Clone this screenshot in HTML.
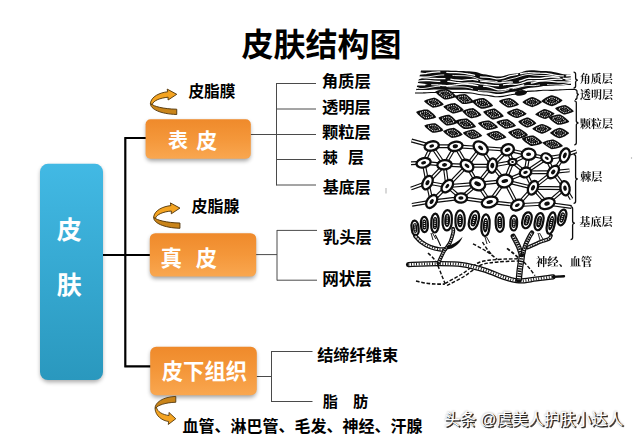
<!DOCTYPE html>
<html><head><meta charset="utf-8"><title>皮肤结构图</title>
<style>html,body{margin:0;padding:0;background:#fff;font-family:"Liberation Sans",sans-serif}svg{display:block}</style>
</head><body>
<svg width="640" height="441" viewBox="0 0 640 441">
<rect width="640" height="441" fill="#fff"/>

<defs>
<linearGradient id="gb" x1="0" y1="0" x2="0" y2="1"><stop offset="0" stop-color="#42b9e4"/><stop offset="1" stop-color="#2a98be"/></linearGradient>
<linearGradient id="go" x1="0" y1="0" x2="0" y2="1"><stop offset="0" stop-color="#ef8a2b"/><stop offset="0.5" stop-color="#f4973a"/><stop offset="1" stop-color="#f9a750"/></linearGradient>
<filter id="sh" x="-10%" y="-10%" width="120%" height="130%"><feGaussianBlur stdDeviation="1.9"/></filter>
<filter id="wm" x="-5%" y="-30%" width="110%" height="160%"><feGaussianBlur stdDeviation="0.45"/></filter>
<filter id="wm2" x="-5%" y="-30%" width="110%" height="160%"><feGaussianBlur stdDeviation="1.2"/></filter>
<filter id="soft" x="-5%" y="-5%" width="110%" height="110%"><feGaussianBlur stdDeviation="0.35"/></filter>
</defs>

<text x="241.4" y="56.3" font-family="'Liberation Sans','Noto Sans CJK SC',sans-serif" font-size="32" font-weight="bold" fill="#000">皮肤结构图</text>
<path d="M103 255H150M125.3 137.5V367M124.3 138H146M124.3 366.3H151" stroke="#000" stroke-width="2.2" fill="none"/>
<path d="M250.6 134.5H276.5M276.5 83V185.5M276.5 83.5H316M276.5 109H316M276.5 134.5H316M276.5 159.5H316M276.5 185H316M256 254.6H277M277 230V280.5M277 230.4H317M277 280.2H317M256.5 376.5H271.5M271.5 351V402M271.5 351.5H312.5M271.5 401.5H312.5" stroke="#4a4a4a" stroke-width="1" fill="none"/>
<rect x="40.5" y="166.0" width="62.0" height="216.2" rx="8.0" fill="#000" opacity="0.33" filter="url(#sh)"/>
<rect x="40.0" y="163.8" width="63.0" height="216.2" rx="8.0" fill="url(#gb)"/>
<rect x="146.1" y="121.5" width="104.2" height="39.5" rx="5.0" fill="#000" opacity="0.36" filter="url(#sh)"/>
<rect x="145.6" y="119.3" width="105.2" height="39.5" rx="5.0" fill="url(#go)"/>
<rect x="150.3" y="235.4" width="105.4" height="43.4" rx="5.5" fill="#000" opacity="0.36" filter="url(#sh)"/>
<rect x="149.8" y="233.2" width="106.4" height="43.4" rx="5.5" fill="url(#go)"/>
<rect x="150.7" y="349.0" width="105.6" height="48.5" rx="6.0" fill="#000" opacity="0.36" filter="url(#sh)"/>
<rect x="150.2" y="346.8" width="106.6" height="48.5" rx="6.0" fill="url(#go)"/>
<text x="56.8" y="238.8" font-family="'Liberation Sans','Noto Sans CJK SC',sans-serif" font-size="25" font-weight="bold" fill="#fff">皮</text>
<text x="56.8" y="293.8" font-family="'Liberation Sans','Noto Sans CJK SC',sans-serif" font-size="25" font-weight="bold" fill="#fff">肤</text>
<text x="168.0" y="148.3" font-family="'Liberation Sans','Noto Sans CJK SC',sans-serif" font-size="20" font-weight="bold" fill="#fff">表</text>
<text x="196.2" y="148.2" font-family="'Liberation Sans','Noto Sans CJK SC',sans-serif" font-size="21" font-weight="bold" fill="#fff">皮</text>
<text x="160.5" y="266.1" font-family="'Liberation Sans','Noto Sans CJK SC',sans-serif" font-size="21.5" font-weight="bold" fill="#fff">真</text>
<text x="195.8" y="266.1" font-family="'Liberation Sans','Noto Sans CJK SC',sans-serif" font-size="21.3" font-weight="bold" fill="#fff">皮</text>
<text x="161.8" y="379.1" font-family="'Liberation Sans','Noto Sans CJK SC',sans-serif" font-size="21.3" font-weight="bold" fill="#fff">皮下组织</text>
<g transform="translate(0 0)" stroke="#4e3208" stroke-width="0.9" stroke-linejoin="round"><path d="M150.4 103.6C150.4 109 160 114 176.75 114.5L176.75 109.2C163 109 153 106 152.2 104.3Z" fill="#c9841a"/><path d="M167.7 91.8C160 92.5 151 96.5 150.4 103.6L152.2 104.5C153.5 100.5 160 98 168.1 97.2L168.1 100L176.75 94.3L167.2 89.1Z" fill="#f4a422"/></g>
<g transform="translate(3.2 113.8)" stroke="#4e3208" stroke-width="0.9" stroke-linejoin="round"><path d="M150.4 103.6C150.4 109 160 114 176.75 114.5L176.75 109.2C163 109 153 106 152.2 104.3Z" fill="#c9841a"/><path d="M167.7 91.8C160 92.5 151 96.5 150.4 103.6L152.2 104.5C153.5 100.5 160 98 168.1 97.2L168.1 100L176.75 94.3L167.2 89.1Z" fill="#f4a422"/></g>
<g transform="matrix(0.7894 0 0 -1.1063 36.278 523.071)" stroke="#4e3208" stroke-width="0.9" stroke-linejoin="round"><path d="M150.4 103.6C150.4 109 160 114 176.75 114.5L176.75 109.2C163 109 153 106 152.2 104.3Z" fill="#c9841a"/><path d="M167.7 91.8C160 92.5 151 96.5 150.4 103.6L152.2 104.5C153.5 100.5 160 98 168.1 97.2L168.1 100L176.75 94.3L167.2 89.1Z" fill="#f4a422"/></g>
<text x="188.4" y="96.8" font-family="'Liberation Sans','Noto Sans CJK SC',sans-serif" font-size="15.7" font-weight="bold" fill="#000">皮脂膜</text>
<text x="191.6" y="212.4" font-family="'Liberation Sans','Noto Sans CJK SC',sans-serif" font-size="16" font-weight="bold" fill="#000">皮脂腺</text>
<text x="321.7" y="87.3" font-family="'Liberation Sans','Noto Sans CJK SC',sans-serif" font-size="16.4" font-weight="bold" fill="#000">角质层</text>
<text x="321.9" y="113.4" font-family="'Liberation Sans','Noto Sans CJK SC',sans-serif" font-size="16.3" font-weight="bold" fill="#000">透明层</text>
<text x="322.0" y="137.9" font-family="'Liberation Sans','Noto Sans CJK SC',sans-serif" font-size="16.3" font-weight="bold" fill="#000">颗粒层</text>
<text x="322.8" y="162.9" font-family="'Liberation Sans','Noto Sans CJK SC',sans-serif" font-size="15" font-weight="bold" fill="#000">棘</text>
<text x="348.0" y="162.6" font-family="'Liberation Sans','Noto Sans CJK SC',sans-serif" font-size="16" font-weight="bold" fill="#000">层</text>
<text x="322.8" y="192.8" font-family="'Liberation Sans','Noto Sans CJK SC',sans-serif" font-size="16" font-weight="bold" fill="#000">基底层</text>
<text x="322.8" y="243.0" font-family="'Liberation Sans','Noto Sans CJK SC',sans-serif" font-size="16.4" font-weight="bold" fill="#000">乳头层</text>
<text x="322.2" y="285.4" font-family="'Liberation Sans','Noto Sans CJK SC',sans-serif" font-size="16.6" font-weight="bold" fill="#000">网状层</text>
<text x="317.2" y="360.6" font-family="'Liberation Sans','Noto Sans CJK SC',sans-serif" font-size="16.2" font-weight="bold" fill="#000">结缔纤维束</text>
<text x="322.7" y="406.5" font-family="'Liberation Sans','Noto Sans CJK SC',sans-serif" font-size="15.2" font-weight="bold" fill="#000">脂</text>
<text x="353.1" y="406.5" font-family="'Liberation Sans','Noto Sans CJK SC',sans-serif" font-size="15.2" font-weight="bold" fill="#000">肪</text>
<text x="182.4" y="432.3" font-family="'Liberation Sans','Noto Sans CJK SC',sans-serif" font-size="16" font-weight="bold" fill="#000">血管、淋巴管、毛发、神经、汗腺</text>
<g filter="url(#wm)" transform="translate(1 1)" opacity="0.9"><text x="444.5" y="424.9" font-family="'Liberation Sans','Noto Sans CJK SC',sans-serif" font-size="16" fill="#1a1a1a" stroke="#1a1a1a" stroke-width="0.5" textLength="179" lengthAdjust="spacingAndGlyphs">头条 @虞美人护肤小达人</text></g>
<g filter="url(#wm2)" opacity="0.35"><text x="444.5" y="424.9" font-family="'Liberation Sans','Noto Sans CJK SC',sans-serif" font-size="16" fill="#1a1a1a" stroke="#1a1a1a" stroke-width="0.5" textLength="179" lengthAdjust="spacingAndGlyphs">头条 @虞美人护肤小达人</text></g>
<text x="444.2" y="425.1" font-family="'Liberation Sans','Noto Sans CJK SC',sans-serif" font-size="16" fill="#fff" textLength="179" lengthAdjust="spacingAndGlyphs">头条 @虞美人护肤小达人</text>
<path d="M386 188v5.5" stroke="#a8a8a8" stroke-width="0.9"/><circle cx="631.5" cy="158" r="0.7" fill="#aaa"/>
<g filter="url(#soft)"><path d="M421.0 70.6C421.8 70.6 424.3 70.6 426.0 70.6C427.7 70.6 429.3 70.6 431.0 70.6C432.7 70.6 434.3 70.6 436.0 70.6C437.7 70.6 439.3 70.6 441.0 70.6C442.7 70.6 444.3 70.6 446.0 70.6C447.7 70.6 449.3 70.6 451.0 70.7C452.7 70.7 454.3 70.8 456.0 70.8C457.7 70.9 459.3 71.0 461.0 71.1C462.7 71.1 464.3 71.2 466.0 71.3C467.7 71.3 469.3 71.3 471.0 71.4C472.7 71.5 474.3 71.7 476.0 72.1C477.7 72.5 479.3 73.3 481.0 73.7C482.7 74.1 484.3 74.2 486.0 74.4C487.7 74.7 489.3 75.0 491.0 75.4C492.7 75.7 494.3 76.3 496.0 76.5C497.7 76.6 499.3 76.6 501.0 76.4C502.7 76.1 504.3 75.6 506.0 75.2C507.7 74.8 509.3 74.3 511.0 74.0C512.7 73.7 514.3 73.8 516.0 73.6C517.7 73.3 519.3 72.9 521.0 72.4C522.7 71.9 524.3 71.2 526.0 70.8C527.7 70.4 529.3 70.3 531.0 70.2C532.7 70.2 534.3 70.4 536.0 70.5C537.7 70.6 539.3 70.8 541.0 70.9C542.7 70.9 544.3 70.9 546.0 71.0C547.7 71.1 549.3 71.3 551.0 71.5C552.7 71.8 554.3 72.2 556.0 72.5C557.7 72.9 559.3 73.3 561.0 73.7C562.7 74.0 564.3 74.4 566.0 74.6C567.7 74.8 570.2 74.9 571.0 75.0L571.0 85.0C570.2 85.0 567.7 85.0 566.0 85.1C564.3 85.2 562.7 85.3 561.0 85.4C559.3 85.5 557.7 85.6 556.0 85.7C554.3 85.8 552.7 85.9 551.0 86.0C549.3 86.0 547.7 86.0 546.0 86.1C544.3 86.2 542.7 86.2 541.0 86.4C539.3 86.6 537.7 87.0 536.0 87.2C534.3 87.4 532.7 87.6 531.0 87.8C529.3 88.0 527.7 88.1 526.0 88.5C524.3 88.9 522.7 89.7 521.0 90.3C519.3 90.8 517.7 91.3 516.0 91.6C514.3 91.8 512.7 91.7 511.0 92.0C509.3 92.2 507.7 92.6 506.0 93.0C504.3 93.3 502.7 93.7 501.0 93.9C499.3 94.1 497.7 94.1 496.0 94.0C494.3 93.9 492.7 93.4 491.0 93.1C489.3 92.8 487.7 92.5 486.0 92.3C484.3 92.1 482.7 92.2 481.0 92.0C479.3 91.8 477.7 91.4 476.0 91.1C474.3 90.9 472.7 90.5 471.0 90.2C469.3 90.0 467.7 89.9 466.0 89.8C464.3 89.7 462.7 89.8 461.0 89.8C459.3 89.8 457.7 89.8 456.0 89.7C454.3 89.7 452.7 89.7 451.0 89.7C449.3 89.7 447.7 89.7 446.0 89.6C444.3 89.6 442.7 89.6 441.0 89.6C439.3 89.6 437.7 89.6 436.0 89.6C434.3 89.6 432.7 89.7 431.0 89.7C429.3 89.8 427.7 89.9 426.0 89.9C424.3 90.0 422.7 90.1 421.0 90.1C419.3 90.2 416.8 90.2 416.0 90.2Z" fill="#0a0a0a"/>
<path d="M414.0 73.8C415.0 73.8 418.0 74.1 420.0 74.0C422.0 74.0 424.0 73.7 426.0 73.5C428.0 73.2 430.0 72.7 432.0 72.4C434.0 72.2 436.0 72.0 438.0 71.9C440.0 71.9 442.0 72.1 444.0 72.2C446.0 72.4 448.0 72.5 450.0 72.6C452.0 72.7 454.0 72.7 456.0 72.7C458.0 72.8 460.0 72.9 462.0 73.1C464.0 73.3 466.0 73.6 468.0 74.0C470.0 74.3 472.0 74.7 474.0 75.1C476.0 75.6 478.0 76.6 480.0 76.9C482.0 77.3 484.0 77.0 486.0 77.2C488.0 77.4 490.0 77.6 492.0 77.9C494.0 78.2 496.0 78.9 498.0 78.9C500.0 78.9 502.0 78.4 504.0 77.8C506.0 77.3 508.0 76.2 510.0 75.7C512.0 75.1 514.0 74.9 516.0 74.6C518.0 74.2 520.0 73.8 522.0 73.5C524.0 73.2 526.0 72.7 528.0 72.7C530.0 72.6 532.0 72.9 534.0 73.0C536.0 73.1 538.0 73.1 540.0 73.2C542.0 73.2 544.0 73.2 546.0 73.4C548.0 73.7 550.0 74.1 552.0 74.5C554.0 74.9 556.0 75.4 558.0 75.6C560.0 75.8 562.0 75.9 564.0 75.9C566.0 75.9 568.0 75.6 570.0 75.6C572.0 75.5 575.0 75.4 576.0 75.4" fill="none" stroke="#fff" stroke-width="1.3" stroke-linecap="round" stroke-dasharray="30 7 28 6 38 3 43 3 40 3 28 6" stroke-dashoffset="4"/>
<path d="M414.0 76.5C415.0 76.5 418.0 76.7 420.0 76.8C422.0 76.9 424.0 77.0 426.0 76.9C428.0 76.9 430.0 76.6 432.0 76.3C434.0 76.0 436.0 75.5 438.0 75.3C440.0 75.0 442.0 74.9 444.0 74.9C446.0 74.9 448.0 75.1 450.0 75.2C452.0 75.3 454.0 75.5 456.0 75.6C458.0 75.7 460.0 75.6 462.0 75.7C464.0 75.7 466.0 75.7 468.0 76.0C470.0 76.2 472.0 76.6 474.0 77.2C476.0 77.8 478.0 79.1 480.0 79.6C482.0 80.2 484.0 80.3 486.0 80.5C488.0 80.7 490.0 80.8 492.0 81.0C494.0 81.2 496.0 81.6 498.0 81.6C500.0 81.5 502.0 81.2 504.0 80.8C506.0 80.4 508.0 79.6 510.0 79.1C512.0 78.5 514.0 78.2 516.0 77.7C518.0 77.1 520.0 76.2 522.0 75.7C524.0 75.2 526.0 74.5 528.0 74.4C530.0 74.3 532.0 74.9 534.0 75.1C536.0 75.3 538.0 75.4 540.0 75.5C542.0 75.6 544.0 75.4 546.0 75.5C548.0 75.6 550.0 75.8 552.0 76.2C554.0 76.5 556.0 77.2 558.0 77.5C560.0 77.9 562.0 78.3 564.0 78.3C566.0 78.4 568.0 78.1 570.0 77.9C572.0 77.7 575.0 77.2 576.0 77.1" fill="none" stroke="#fff" stroke-width="0.9" stroke-linecap="round" stroke-dasharray="47 9 45 5 59 3 55 5 30 4 36 8" stroke-dashoffset="17"/>
<path d="M414.0 78.3C415.0 78.2 418.0 77.8 420.0 77.7C422.0 77.6 424.0 77.8 426.0 77.9C428.0 78.0 430.0 78.3 432.0 78.4C434.0 78.5 436.0 78.5 438.0 78.6C440.0 78.6 442.0 78.5 444.0 78.6C446.0 78.6 448.0 78.8 450.0 79.1C452.0 79.3 454.0 79.8 456.0 80.0C458.0 80.2 460.0 80.3 462.0 80.3C464.0 80.2 466.0 79.9 468.0 79.7C470.0 79.6 472.0 79.3 474.0 79.5C476.0 79.7 478.0 80.6 480.0 80.9C482.0 81.3 484.0 81.5 486.0 81.7C488.0 82.0 490.0 82.2 492.0 82.4C494.0 82.6 496.0 82.9 498.0 82.9C500.0 82.9 502.0 82.6 504.0 82.4C506.0 82.3 508.0 82.1 510.0 82.0C512.0 81.9 514.0 82.3 516.0 82.0C518.0 81.7 520.0 80.9 522.0 80.3C524.0 79.7 526.0 78.7 528.0 78.4C530.0 78.0 532.0 78.4 534.0 78.4C536.0 78.4 538.0 78.4 540.0 78.3C542.0 78.2 544.0 77.8 546.0 77.5C548.0 77.3 550.0 77.0 552.0 76.9C554.0 76.9 556.0 77.0 558.0 77.2C560.0 77.5 562.0 78.0 564.0 78.3C566.0 78.5 568.0 78.8 570.0 78.9C572.0 79.0 575.0 78.9 576.0 78.8" fill="none" stroke="#fff" stroke-width="1.3" stroke-linecap="round" stroke-dasharray="38 6 27 3 32 7 40 5 45 6 35 8" stroke-dashoffset="7"/>
<path d="M414.0 81.8C415.0 81.7 418.0 81.1 420.0 80.9C422.0 80.7 424.0 80.5 426.0 80.5C428.0 80.5 430.0 80.8 432.0 80.9C434.0 81.1 436.0 81.2 438.0 81.3C440.0 81.4 442.0 81.3 444.0 81.3C446.0 81.3 448.0 81.3 450.0 81.5C452.0 81.7 454.0 82.1 456.0 82.4C458.0 82.6 460.0 83.0 462.0 83.1C464.0 83.2 466.0 83.1 468.0 83.0C470.0 82.9 472.0 82.7 474.0 82.8C476.0 82.9 478.0 83.5 480.0 83.8C482.0 84.0 484.0 84.2 486.0 84.5C488.0 84.8 490.0 85.2 492.0 85.4C494.0 85.6 496.0 85.8 498.0 85.7C500.0 85.6 502.0 85.0 504.0 84.7C506.0 84.5 508.0 84.1 510.0 84.0C512.0 84.0 514.0 84.5 516.0 84.4C518.0 84.2 520.0 83.6 522.0 83.0C524.0 82.5 526.0 81.4 528.0 81.0C530.0 80.6 532.0 80.8 534.0 80.8C536.0 80.7 538.0 80.8 540.0 80.7C542.0 80.7 544.0 80.5 546.0 80.3C548.0 80.2 550.0 79.8 552.0 79.6C554.0 79.4 556.0 79.2 558.0 79.2C560.0 79.2 562.0 79.4 564.0 79.6C566.0 79.8 568.0 80.1 570.0 80.3C572.0 80.4 575.0 80.3 576.0 80.3" fill="none" stroke="#fff" stroke-width="1.3" stroke-linecap="round" stroke-dasharray="43 8 51 5 59 4 40 8 30 6 26 7" stroke-dashoffset="17"/>
<path d="M414.0 84.0C415.0 84.1 418.0 84.5 420.0 84.7C422.0 84.8 424.0 84.8 426.0 84.7C428.0 84.7 430.0 84.5 432.0 84.6C434.0 84.6 436.0 84.7 438.0 84.9C440.0 85.0 442.0 85.4 444.0 85.5C446.0 85.6 448.0 85.6 450.0 85.5C452.0 85.4 454.0 85.0 456.0 84.8C458.0 84.5 460.0 84.2 462.0 84.1C464.0 84.0 466.0 84.0 468.0 84.2C470.0 84.3 472.0 84.7 474.0 85.0C476.0 85.3 478.0 85.8 480.0 86.0C482.0 86.3 484.0 86.1 486.0 86.4C488.0 86.7 490.0 87.3 492.0 87.9C494.0 88.5 496.0 89.5 498.0 89.7C500.0 90.0 502.0 89.8 504.0 89.5C506.0 89.2 508.0 88.4 510.0 87.9C512.0 87.5 514.0 87.4 516.0 87.0C518.0 86.6 520.0 86.1 522.0 85.5C524.0 85.0 526.0 84.1 528.0 83.6C530.0 83.2 532.0 83.0 534.0 82.6C536.0 82.2 538.0 81.4 540.0 81.1C542.0 80.8 544.0 80.7 546.0 80.8C548.0 80.8 550.0 81.2 552.0 81.4C554.0 81.6 556.0 81.9 558.0 82.0C560.0 82.1 562.0 82.0 564.0 82.0C566.0 82.1 568.0 82.1 570.0 82.3C572.0 82.4 575.0 82.9 576.0 83.0" fill="none" stroke="#fff" stroke-width="1.4" stroke-linecap="round" stroke-dasharray="36 7 46 6 41 8 58 6 48 3 50 7" stroke-dashoffset="25"/>
<path d="M414.0 88.3C415.0 88.4 418.0 88.6 420.0 88.6C422.0 88.6 424.0 88.5 426.0 88.2C428.0 88.0 430.0 87.4 432.0 87.1C434.0 86.7 436.0 86.3 438.0 86.2C440.0 86.1 442.0 86.2 444.0 86.3C446.0 86.4 448.0 86.7 450.0 86.8C452.0 86.9 454.0 86.9 456.0 86.9C458.0 86.9 460.0 86.8 462.0 86.9C464.0 87.0 466.0 87.1 468.0 87.5C470.0 87.9 472.0 88.6 474.0 89.2C476.0 89.7 478.0 90.5 480.0 90.8C482.0 91.1 484.0 90.8 486.0 90.8C488.0 90.9 490.0 91.0 492.0 91.2C494.0 91.4 496.0 92.0 498.0 91.9C500.0 91.9 502.0 91.6 504.0 91.2C506.0 90.7 508.0 89.8 510.0 89.3C512.0 88.8 514.0 88.5 516.0 88.1C518.0 87.6 520.0 87.0 522.0 86.5C524.0 86.1 526.0 85.6 528.0 85.5C530.0 85.3 532.0 85.8 534.0 85.7C536.0 85.6 538.0 85.1 540.0 84.9C542.0 84.7 544.0 84.6 546.0 84.6C548.0 84.6 550.0 84.9 552.0 84.9C554.0 85.0 556.0 85.2 558.0 85.1C560.0 85.0 562.0 84.7 564.0 84.4C566.0 84.1 568.0 83.6 570.0 83.3C572.0 83.1 575.0 82.9 576.0 82.9" fill="none" stroke="#fff" stroke-width="0.9" stroke-linecap="round" stroke-dasharray="39 7 26 6 31 4 27 8 30 4 39 8" stroke-dashoffset="13"/>
<path d="M414.0 71.6L426.0 73.2L414.0 74.8Z" fill="#fff"/>
<path d="M414.0 76.8L422.0 78.6L414.0 80.4Z" fill="#fff"/>
<path d="M414.0 82.6L428.0 84.2L414.0 85.8Z" fill="#fff"/>
<path d="M414.0 86.4L420.0 87.6L414.0 88.8Z" fill="#fff"/>
<path d="M576.0 75.7L569.0 77.0L576.0 78.3Z" fill="#fff"/>
<path d="M576.0 79.6L566.0 81.0L576.0 82.4Z" fill="#fff"/>
<path d="M576.0 83.0L571.0 84.0L576.0 85.0Z" fill="#fff"/>
<path d="M415.0 93.0C416.3 93.0 420.3 92.9 423.0 92.9C425.7 92.8 428.3 92.6 431.0 92.5C433.7 92.5 436.3 92.4 439.0 92.4C441.7 92.4 444.3 92.4 447.0 92.4C449.7 92.5 452.3 92.5 455.0 92.5C457.7 92.6 460.3 92.5 463.0 92.6C465.7 92.7 468.3 92.7 471.0 93.0C473.7 93.3 476.3 94.1 479.0 94.5C481.7 94.9 484.3 94.9 487.0 95.2C489.7 95.6 492.3 96.5 495.0 96.7C497.7 96.9 500.3 96.7 503.0 96.4C505.7 96.1 508.3 95.2 511.0 94.8C513.7 94.3 516.3 94.3 519.0 93.7C521.7 93.2 524.3 91.8 527.0 91.4C529.7 90.9 532.3 91.2 535.0 91.0C537.7 90.8 540.3 90.3 543.0 90.2C545.7 90.1 548.3 90.4 551.0 90.4C553.7 90.3 556.3 90.0 559.0 89.9C561.7 89.7 564.3 89.6 567.0 89.5C569.7 89.4 573.7 89.4 575.0 89.4" fill="none" stroke="#0a0a0a" stroke-width="1.1"/>
<g transform="translate(445.9 94.2) rotate(13) scale(1.03 1.03)"><path d="M10.6 0.0L10.0 0.6L8.4 1.7L6.1 3.0L3.5 4.2L1.2 5.0L0.0 5.3L-1.2 5.0L-3.5 4.2L-6.1 3.0L-8.4 1.7L-10.0 0.6L-10.6 0.0L-10.0 -0.6L-8.4 -1.7L-6.1 -3.0L-3.5 -4.2L-1.2 -5.0L-0.0 -5.3L1.2 -5.0L3.5 -4.2L6.1 -3.0L8.4 -1.7L10.0 -0.6Z" fill="#0a0a0a"/><path d="M6.6 0.0L5.8 0.7L3.8 1.8L1.4 2.7L0.0 3.1L-1.4 2.7L-3.8 1.8L-5.8 0.7L-6.6 0.0L-5.8 -0.7L-3.8 -1.8L-1.4 -2.7L-0.0 -3.1L1.4 -2.7L3.8 -1.8L5.8 -0.7Z" fill="none" stroke="#fff" stroke-width="1.2" stroke-dasharray="0.9 1.0"/><ellipse rx="2.1" ry="1.1" fill="none" stroke="#eee" stroke-width="0.8" stroke-dasharray="0.8 0.9"/></g>
<g transform="translate(464.2 99.1) rotate(17) scale(0.95 0.98)"><path d="M10.6 0.0L10.0 0.6L8.4 1.7L6.1 3.0L3.5 4.2L1.2 5.0L0.0 5.3L-1.2 5.0L-3.5 4.2L-6.1 3.0L-8.4 1.7L-10.0 0.6L-10.6 0.0L-10.0 -0.6L-8.4 -1.7L-6.1 -3.0L-3.5 -4.2L-1.2 -5.0L-0.0 -5.3L1.2 -5.0L3.5 -4.2L6.1 -3.0L8.4 -1.7L10.0 -0.6Z" fill="#0a0a0a"/><path d="M6.6 0.0L5.8 0.7L3.8 1.8L1.4 2.7L0.0 3.1L-1.4 2.7L-3.8 1.8L-5.8 0.7L-6.6 0.0L-5.8 -0.7L-3.8 -1.8L-1.4 -2.7L-0.0 -3.1L1.4 -2.7L3.8 -1.8L5.8 -0.7Z" fill="none" stroke="#fff" stroke-width="1.2" stroke-dasharray="0.9 1.0"/><ellipse rx="2.1" ry="1.1" fill="none" stroke="#eee" stroke-width="0.8" stroke-dasharray="0.8 0.9"/></g>
<g transform="translate(482.4 103.4) rotate(12) scale(1.03 1.05)"><path d="M10.6 0.0L10.0 0.6L8.4 1.7L6.1 3.0L3.5 4.2L1.2 5.0L0.0 5.3L-1.2 5.0L-3.5 4.2L-6.1 3.0L-8.4 1.7L-10.0 0.6L-10.6 0.0L-10.0 -0.6L-8.4 -1.7L-6.1 -3.0L-3.5 -4.2L-1.2 -5.0L-0.0 -5.3L1.2 -5.0L3.5 -4.2L6.1 -3.0L8.4 -1.7L10.0 -0.6Z" fill="#0a0a0a"/><path d="M6.6 0.0L5.8 0.7L3.8 1.8L1.4 2.7L0.0 3.1L-1.4 2.7L-3.8 1.8L-5.8 0.7L-6.6 0.0L-5.8 -0.7L-3.8 -1.8L-1.4 -2.7L-0.0 -3.1L1.4 -2.7L3.8 -1.8L5.8 -0.7Z" fill="none" stroke="#fff" stroke-width="1.2" stroke-dasharray="0.9 1.0"/><ellipse rx="2.1" ry="1.1" fill="none" stroke="#eee" stroke-width="0.8" stroke-dasharray="0.8 0.9"/></g>
<g transform="translate(433.9 102.7) rotate(10) scale(0.94 0.95)"><path d="M10.6 0.0L10.0 0.6L8.4 1.7L6.1 3.0L3.5 4.2L1.2 5.0L0.0 5.3L-1.2 5.0L-3.5 4.2L-6.1 3.0L-8.4 1.7L-10.0 0.6L-10.6 0.0L-10.0 -0.6L-8.4 -1.7L-6.1 -3.0L-3.5 -4.2L-1.2 -5.0L-0.0 -5.3L1.2 -5.0L3.5 -4.2L6.1 -3.0L8.4 -1.7L10.0 -0.6Z" fill="#0a0a0a"/><path d="M6.6 0.0L5.8 0.7L3.8 1.8L1.4 2.7L0.0 3.1L-1.4 2.7L-3.8 1.8L-5.8 0.7L-6.6 0.0L-5.8 -0.7L-3.8 -1.8L-1.4 -2.7L-0.0 -3.1L1.4 -2.7L3.8 -1.8L5.8 -0.7Z" fill="none" stroke="#fff" stroke-width="1.2" stroke-dasharray="0.9 1.0"/><ellipse rx="2.1" ry="1.1" fill="none" stroke="#eee" stroke-width="0.8" stroke-dasharray="0.8 0.9"/></g>
<g transform="translate(453.6 108.3) rotate(10) scale(0.98 1.00)"><path d="M10.6 0.0L10.0 0.6L8.4 1.7L6.1 3.0L3.5 4.2L1.2 5.0L0.0 5.3L-1.2 5.0L-3.5 4.2L-6.1 3.0L-8.4 1.7L-10.0 0.6L-10.6 0.0L-10.0 -0.6L-8.4 -1.7L-6.1 -3.0L-3.5 -4.2L-1.2 -5.0L-0.0 -5.3L1.2 -5.0L3.5 -4.2L6.1 -3.0L8.4 -1.7L10.0 -0.6Z" fill="#0a0a0a"/><path d="M6.6 0.0L5.8 0.7L3.8 1.8L1.4 2.7L0.0 3.1L-1.4 2.7L-3.8 1.8L-5.8 0.7L-6.6 0.0L-5.8 -0.7L-3.8 -1.8L-1.4 -2.7L-0.0 -3.1L1.4 -2.7L3.8 -1.8L5.8 -0.7Z" fill="none" stroke="#fff" stroke-width="1.2" stroke-dasharray="0.9 1.0"/><ellipse rx="2.1" ry="1.1" fill="none" stroke="#eee" stroke-width="0.8" stroke-dasharray="0.8 0.9"/></g>
<g transform="translate(471.9 113.2) rotate(11) scale(0.92 0.98)"><path d="M10.6 0.0L10.0 0.6L8.4 1.7L6.1 3.0L3.5 4.2L1.2 5.0L0.0 5.3L-1.2 5.0L-3.5 4.2L-6.1 3.0L-8.4 1.7L-10.0 0.6L-10.6 0.0L-10.0 -0.6L-8.4 -1.7L-6.1 -3.0L-3.5 -4.2L-1.2 -5.0L-0.0 -5.3L1.2 -5.0L3.5 -4.2L6.1 -3.0L8.4 -1.7L10.0 -0.6Z" fill="#0a0a0a"/><path d="M6.6 0.0L5.8 0.7L3.8 1.8L1.4 2.7L0.0 3.1L-1.4 2.7L-3.8 1.8L-5.8 0.7L-6.6 0.0L-5.8 -0.7L-3.8 -1.8L-1.4 -2.7L-0.0 -3.1L1.4 -2.7L3.8 -1.8L5.8 -0.7Z" fill="none" stroke="#fff" stroke-width="1.2" stroke-dasharray="0.9 1.0"/><ellipse rx="2.1" ry="1.1" fill="none" stroke="#eee" stroke-width="0.8" stroke-dasharray="0.8 0.9"/></g>
<g transform="translate(493.5 114.0) rotate(12) scale(0.99 1.05)"><path d="M10.6 0.0L10.0 0.6L8.4 1.7L6.1 3.0L3.5 4.2L1.2 5.0L0.0 5.3L-1.2 5.0L-3.5 4.2L-6.1 3.0L-8.4 1.7L-10.0 0.6L-10.6 0.0L-10.0 -0.6L-8.4 -1.7L-6.1 -3.0L-3.5 -4.2L-1.2 -5.0L-0.0 -5.3L1.2 -5.0L3.5 -4.2L6.1 -3.0L8.4 -1.7L10.0 -0.6Z" fill="#0a0a0a"/><path d="M6.6 0.0L5.8 0.7L3.8 1.8L1.4 2.7L0.0 3.1L-1.4 2.7L-3.8 1.8L-5.8 0.7L-6.6 0.0L-5.8 -0.7L-3.8 -1.8L-1.4 -2.7L-0.0 -3.1L1.4 -2.7L3.8 -1.8L5.8 -0.7Z" fill="none" stroke="#fff" stroke-width="1.2" stroke-dasharray="0.9 1.0"/><ellipse rx="2.1" ry="1.1" fill="none" stroke="#eee" stroke-width="0.8" stroke-dasharray="0.8 0.9"/></g>
<g transform="translate(426.2 114.6) rotate(15) scale(0.98 1.01)"><path d="M10.6 0.0L10.0 0.6L8.4 1.7L6.1 3.0L3.5 4.2L1.2 5.0L0.0 5.3L-1.2 5.0L-3.5 4.2L-6.1 3.0L-8.4 1.7L-10.0 0.6L-10.6 0.0L-10.0 -0.6L-8.4 -1.7L-6.1 -3.0L-3.5 -4.2L-1.2 -5.0L-0.0 -5.3L1.2 -5.0L3.5 -4.2L6.1 -3.0L8.4 -1.7L10.0 -0.6Z" fill="#0a0a0a"/><path d="M6.6 0.0L5.8 0.7L3.8 1.8L1.4 2.7L0.0 3.1L-1.4 2.7L-3.8 1.8L-5.8 0.7L-6.6 0.0L-5.8 -0.7L-3.8 -1.8L-1.4 -2.7L-0.0 -3.1L1.4 -2.7L3.8 -1.8L5.8 -0.7Z" fill="none" stroke="#fff" stroke-width="1.2" stroke-dasharray="0.9 1.0"/><ellipse rx="2.1" ry="1.1" fill="none" stroke="#eee" stroke-width="0.8" stroke-dasharray="0.8 0.9"/></g>
<g transform="translate(448.0 120.2) rotate(15) scale(0.93 1.05)"><path d="M10.6 0.0L10.0 0.6L8.4 1.7L6.1 3.0L3.5 4.2L1.2 5.0L0.0 5.3L-1.2 5.0L-3.5 4.2L-6.1 3.0L-8.4 1.7L-10.0 0.6L-10.6 0.0L-10.0 -0.6L-8.4 -1.7L-6.1 -3.0L-3.5 -4.2L-1.2 -5.0L-0.0 -5.3L1.2 -5.0L3.5 -4.2L6.1 -3.0L8.4 -1.7L10.0 -0.6Z" fill="#0a0a0a"/><path d="M6.6 0.0L5.8 0.7L3.8 1.8L1.4 2.7L0.0 3.1L-1.4 2.7L-3.8 1.8L-5.8 0.7L-6.6 0.0L-5.8 -0.7L-3.8 -1.8L-1.4 -2.7L-0.0 -3.1L1.4 -2.7L3.8 -1.8L5.8 -0.7Z" fill="none" stroke="#fff" stroke-width="1.2" stroke-dasharray="0.9 1.0"/><ellipse rx="2.1" ry="1.1" fill="none" stroke="#eee" stroke-width="0.8" stroke-dasharray="0.8 0.9"/></g>
<g transform="translate(465.6 123.8) rotate(16) scale(1.02 1.03)"><path d="M10.6 0.0L10.0 0.6L8.4 1.7L6.1 3.0L3.5 4.2L1.2 5.0L0.0 5.3L-1.2 5.0L-3.5 4.2L-6.1 3.0L-8.4 1.7L-10.0 0.6L-10.6 0.0L-10.0 -0.6L-8.4 -1.7L-6.1 -3.0L-3.5 -4.2L-1.2 -5.0L-0.0 -5.3L1.2 -5.0L3.5 -4.2L6.1 -3.0L8.4 -1.7L10.0 -0.6Z" fill="#0a0a0a"/><path d="M6.6 0.0L5.8 0.7L3.8 1.8L1.4 2.7L0.0 3.1L-1.4 2.7L-3.8 1.8L-5.8 0.7L-6.6 0.0L-5.8 -0.7L-3.8 -1.8L-1.4 -2.7L-0.0 -3.1L1.4 -2.7L3.8 -1.8L5.8 -0.7Z" fill="none" stroke="#fff" stroke-width="1.2" stroke-dasharray="0.9 1.0"/><ellipse rx="2.1" ry="1.1" fill="none" stroke="#eee" stroke-width="0.8" stroke-dasharray="0.8 0.9"/></g>
<g transform="translate(488.0 125.2) rotate(12) scale(0.97 0.93)"><path d="M10.6 0.0L10.0 0.6L8.4 1.7L6.1 3.0L3.5 4.2L1.2 5.0L0.0 5.3L-1.2 5.0L-3.5 4.2L-6.1 3.0L-8.4 1.7L-10.0 0.6L-10.6 0.0L-10.0 -0.6L-8.4 -1.7L-6.1 -3.0L-3.5 -4.2L-1.2 -5.0L-0.0 -5.3L1.2 -5.0L3.5 -4.2L6.1 -3.0L8.4 -1.7L10.0 -0.6Z" fill="#0a0a0a"/><path d="M6.6 0.0L5.8 0.7L3.8 1.8L1.4 2.7L0.0 3.1L-1.4 2.7L-3.8 1.8L-5.8 0.7L-6.6 0.0L-5.8 -0.7L-3.8 -1.8L-1.4 -2.7L-0.0 -3.1L1.4 -2.7L3.8 -1.8L5.8 -0.7Z" fill="none" stroke="#fff" stroke-width="1.2" stroke-dasharray="0.9 1.0"/><ellipse rx="2.1" ry="1.1" fill="none" stroke="#eee" stroke-width="0.8" stroke-dasharray="0.8 0.9"/></g>
<g transform="translate(433.9 128.0) rotate(14) scale(0.93 0.93)"><path d="M10.6 0.0L10.0 0.6L8.4 1.7L6.1 3.0L3.5 4.2L1.2 5.0L0.0 5.3L-1.2 5.0L-3.5 4.2L-6.1 3.0L-8.4 1.7L-10.0 0.6L-10.6 0.0L-10.0 -0.6L-8.4 -1.7L-6.1 -3.0L-3.5 -4.2L-1.2 -5.0L-0.0 -5.3L1.2 -5.0L3.5 -4.2L6.1 -3.0L8.4 -1.7L10.0 -0.6Z" fill="#0a0a0a"/><path d="M6.6 0.0L5.8 0.7L3.8 1.8L1.4 2.7L0.0 3.1L-1.4 2.7L-3.8 1.8L-5.8 0.7L-6.6 0.0L-5.8 -0.7L-3.8 -1.8L-1.4 -2.7L-0.0 -3.1L1.4 -2.7L3.8 -1.8L5.8 -0.7Z" fill="none" stroke="#fff" stroke-width="1.2" stroke-dasharray="0.9 1.0"/><ellipse rx="2.1" ry="1.1" fill="none" stroke="#eee" stroke-width="0.8" stroke-dasharray="0.8 0.9"/></g>
<g transform="translate(452.9 132.9) rotate(10) scale(0.94 0.97)"><path d="M10.6 0.0L10.0 0.6L8.4 1.7L6.1 3.0L3.5 4.2L1.2 5.0L0.0 5.3L-1.2 5.0L-3.5 4.2L-6.1 3.0L-8.4 1.7L-10.0 0.6L-10.6 0.0L-10.0 -0.6L-8.4 -1.7L-6.1 -3.0L-3.5 -4.2L-1.2 -5.0L-0.0 -5.3L1.2 -5.0L3.5 -4.2L6.1 -3.0L8.4 -1.7L10.0 -0.6Z" fill="#0a0a0a"/><path d="M6.6 0.0L5.8 0.7L3.8 1.8L1.4 2.7L0.0 3.1L-1.4 2.7L-3.8 1.8L-5.8 0.7L-6.6 0.0L-5.8 -0.7L-3.8 -1.8L-1.4 -2.7L-0.0 -3.1L1.4 -2.7L3.8 -1.8L5.8 -0.7Z" fill="none" stroke="#fff" stroke-width="1.2" stroke-dasharray="0.9 1.0"/><ellipse rx="2.1" ry="1.1" fill="none" stroke="#eee" stroke-width="0.8" stroke-dasharray="0.8 0.9"/></g>
<g transform="translate(472.6 134.3) rotate(9) scale(0.92 0.94)"><path d="M10.6 0.0L10.0 0.6L8.4 1.7L6.1 3.0L3.5 4.2L1.2 5.0L0.0 5.3L-1.2 5.0L-3.5 4.2L-6.1 3.0L-8.4 1.7L-10.0 0.6L-10.6 0.0L-10.0 -0.6L-8.4 -1.7L-6.1 -3.0L-3.5 -4.2L-1.2 -5.0L-0.0 -5.3L1.2 -5.0L3.5 -4.2L6.1 -3.0L8.4 -1.7L10.0 -0.6Z" fill="#0a0a0a"/><path d="M6.6 0.0L5.8 0.7L3.8 1.8L1.4 2.7L0.0 3.1L-1.4 2.7L-3.8 1.8L-5.8 0.7L-6.6 0.0L-5.8 -0.7L-3.8 -1.8L-1.4 -2.7L-0.0 -3.1L1.4 -2.7L3.8 -1.8L5.8 -0.7Z" fill="none" stroke="#fff" stroke-width="1.2" stroke-dasharray="0.9 1.0"/><ellipse rx="2.1" ry="1.1" fill="none" stroke="#eee" stroke-width="0.8" stroke-dasharray="0.8 0.9"/></g>
<g transform="translate(496.4 135.7) rotate(9) scale(0.96 0.92)"><path d="M10.6 0.0L10.0 0.6L8.4 1.7L6.1 3.0L3.5 4.2L1.2 5.0L0.0 5.3L-1.2 5.0L-3.5 4.2L-6.1 3.0L-8.4 1.7L-10.0 0.6L-10.6 0.0L-10.0 -0.6L-8.4 -1.7L-6.1 -3.0L-3.5 -4.2L-1.2 -5.0L-0.0 -5.3L1.2 -5.0L3.5 -4.2L6.1 -3.0L8.4 -1.7L10.0 -0.6Z" fill="#0a0a0a"/><path d="M6.6 0.0L5.8 0.7L3.8 1.8L1.4 2.7L0.0 3.1L-1.4 2.7L-3.8 1.8L-5.8 0.7L-6.6 0.0L-5.8 -0.7L-3.8 -1.8L-1.4 -2.7L-0.0 -3.1L1.4 -2.7L3.8 -1.8L5.8 -0.7Z" fill="none" stroke="#fff" stroke-width="1.2" stroke-dasharray="0.9 1.0"/><ellipse rx="2.1" ry="1.1" fill="none" stroke="#eee" stroke-width="0.8" stroke-dasharray="0.8 0.9"/></g>
<g transform="translate(509.0 102.8) rotate(10) scale(0.96 0.92)"><path d="M10.6 0.0L10.0 0.6L8.4 1.7L6.1 3.0L3.5 4.2L1.2 5.0L0.0 5.3L-1.2 5.0L-3.5 4.2L-6.1 3.0L-8.4 1.7L-10.0 0.6L-10.6 0.0L-10.0 -0.6L-8.4 -1.7L-6.1 -3.0L-3.5 -4.2L-1.2 -5.0L-0.0 -5.3L1.2 -5.0L3.5 -4.2L6.1 -3.0L8.4 -1.7L10.0 -0.6Z" fill="#0a0a0a"/><path d="M6.6 0.0L5.8 0.7L3.8 1.8L1.4 2.7L0.0 3.1L-1.4 2.7L-3.8 1.8L-5.8 0.7L-6.6 0.0L-5.8 -0.7L-3.8 -1.8L-1.4 -2.7L-0.0 -3.1L1.4 -2.7L3.8 -1.8L5.8 -0.7Z" fill="none" stroke="#fff" stroke-width="1.2" stroke-dasharray="0.9 1.0"/><ellipse rx="2.1" ry="1.1" fill="none" stroke="#eee" stroke-width="0.8" stroke-dasharray="0.8 0.9"/></g>
<g transform="translate(532.2 102.1) rotate(0) scale(0.92 0.95)"><path d="M10.6 0.0L10.0 0.6L8.4 1.7L6.1 3.0L3.5 4.2L1.2 5.0L0.0 5.3L-1.2 5.0L-3.5 4.2L-6.1 3.0L-8.4 1.7L-10.0 0.6L-10.6 0.0L-10.0 -0.6L-8.4 -1.7L-6.1 -3.0L-3.5 -4.2L-1.2 -5.0L-0.0 -5.3L1.2 -5.0L3.5 -4.2L6.1 -3.0L8.4 -1.7L10.0 -0.6Z" fill="#0a0a0a"/><path d="M6.6 0.0L5.8 0.7L3.8 1.8L1.4 2.7L0.0 3.1L-1.4 2.7L-3.8 1.8L-5.8 0.7L-6.6 0.0L-5.8 -0.7L-3.8 -1.8L-1.4 -2.7L-0.0 -3.1L1.4 -2.7L3.8 -1.8L5.8 -0.7Z" fill="none" stroke="#fff" stroke-width="1.2" stroke-dasharray="0.9 1.0"/><ellipse rx="2.1" ry="1.1" fill="none" stroke="#eee" stroke-width="0.8" stroke-dasharray="0.8 0.9"/></g>
<g transform="translate(551.9 100.7) rotate(-2) scale(1.00 1.04)"><path d="M10.6 0.0L10.0 0.6L8.4 1.7L6.1 3.0L3.5 4.2L1.2 5.0L0.0 5.3L-1.2 5.0L-3.5 4.2L-6.1 3.0L-8.4 1.7L-10.0 0.6L-10.6 0.0L-10.0 -0.6L-8.4 -1.7L-6.1 -3.0L-3.5 -4.2L-1.2 -5.0L-0.0 -5.3L1.2 -5.0L3.5 -4.2L6.1 -3.0L8.4 -1.7L10.0 -0.6Z" fill="#0a0a0a"/><path d="M6.6 0.0L5.8 0.7L3.8 1.8L1.4 2.7L0.0 3.1L-1.4 2.7L-3.8 1.8L-5.8 0.7L-6.6 0.0L-5.8 -0.7L-3.8 -1.8L-1.4 -2.7L-0.0 -3.1L1.4 -2.7L3.8 -1.8L5.8 -0.7Z" fill="none" stroke="#fff" stroke-width="1.2" stroke-dasharray="0.9 1.0"/><ellipse rx="2.1" ry="1.1" fill="none" stroke="#eee" stroke-width="0.8" stroke-dasharray="0.8 0.9"/></g>
<g transform="translate(516.7 113.3) rotate(3) scale(0.94 0.91)"><path d="M10.6 0.0L10.0 0.6L8.4 1.7L6.1 3.0L3.5 4.2L1.2 5.0L0.0 5.3L-1.2 5.0L-3.5 4.2L-6.1 3.0L-8.4 1.7L-10.0 0.6L-10.6 0.0L-10.0 -0.6L-8.4 -1.7L-6.1 -3.0L-3.5 -4.2L-1.2 -5.0L-0.0 -5.3L1.2 -5.0L3.5 -4.2L6.1 -3.0L8.4 -1.7L10.0 -0.6Z" fill="#0a0a0a"/><path d="M6.6 0.0L5.8 0.7L3.8 1.8L1.4 2.7L0.0 3.1L-1.4 2.7L-3.8 1.8L-5.8 0.7L-6.6 0.0L-5.8 -0.7L-3.8 -1.8L-1.4 -2.7L-0.0 -3.1L1.4 -2.7L3.8 -1.8L5.8 -0.7Z" fill="none" stroke="#fff" stroke-width="1.2" stroke-dasharray="0.9 1.0"/><ellipse rx="2.1" ry="1.1" fill="none" stroke="#eee" stroke-width="0.8" stroke-dasharray="0.8 0.9"/></g>
<g transform="translate(544.9 114.0) rotate(-2) scale(0.91 0.94)"><path d="M10.6 0.0L10.0 0.6L8.4 1.7L6.1 3.0L3.5 4.2L1.2 5.0L0.0 5.3L-1.2 5.0L-3.5 4.2L-6.1 3.0L-8.4 1.7L-10.0 0.6L-10.6 0.0L-10.0 -0.6L-8.4 -1.7L-6.1 -3.0L-3.5 -4.2L-1.2 -5.0L-0.0 -5.3L1.2 -5.0L3.5 -4.2L6.1 -3.0L8.4 -1.7L10.0 -0.6Z" fill="#0a0a0a"/><path d="M6.6 0.0L5.8 0.7L3.8 1.8L1.4 2.7L0.0 3.1L-1.4 2.7L-3.8 1.8L-5.8 0.7L-6.6 0.0L-5.8 -0.7L-3.8 -1.8L-1.4 -2.7L-0.0 -3.1L1.4 -2.7L3.8 -1.8L5.8 -0.7Z" fill="none" stroke="#fff" stroke-width="1.2" stroke-dasharray="0.9 1.0"/><ellipse rx="2.1" ry="1.1" fill="none" stroke="#eee" stroke-width="0.8" stroke-dasharray="0.8 0.9"/></g>
<g transform="translate(564.5 109.8) rotate(9) scale(0.89 0.90)"><path d="M10.6 0.0L10.0 0.6L8.4 1.7L6.1 3.0L3.5 4.2L1.2 5.0L0.0 5.3L-1.2 5.0L-3.5 4.2L-6.1 3.0L-8.4 1.7L-10.0 0.6L-10.6 0.0L-10.0 -0.6L-8.4 -1.7L-6.1 -3.0L-3.5 -4.2L-1.2 -5.0L-0.0 -5.3L1.2 -5.0L3.5 -4.2L6.1 -3.0L8.4 -1.7L10.0 -0.6Z" fill="#0a0a0a"/><path d="M6.6 0.0L5.8 0.7L3.8 1.8L1.4 2.7L0.0 3.1L-1.4 2.7L-3.8 1.8L-5.8 0.7L-6.6 0.0L-5.8 -0.7L-3.8 -1.8L-1.4 -2.7L-0.0 -3.1L1.4 -2.7L3.8 -1.8L5.8 -0.7Z" fill="none" stroke="#fff" stroke-width="1.2" stroke-dasharray="0.9 1.0"/><ellipse rx="2.1" ry="1.1" fill="none" stroke="#eee" stroke-width="0.8" stroke-dasharray="0.8 0.9"/></g>
<g transform="translate(506.2 123.9) rotate(11) scale(0.94 0.92)"><path d="M10.6 0.0L10.0 0.6L8.4 1.7L6.1 3.0L3.5 4.2L1.2 5.0L0.0 5.3L-1.2 5.0L-3.5 4.2L-6.1 3.0L-8.4 1.7L-10.0 0.6L-10.6 0.0L-10.0 -0.6L-8.4 -1.7L-6.1 -3.0L-3.5 -4.2L-1.2 -5.0L-0.0 -5.3L1.2 -5.0L3.5 -4.2L6.1 -3.0L8.4 -1.7L10.0 -0.6Z" fill="#0a0a0a"/><path d="M6.6 0.0L5.8 0.7L3.8 1.8L1.4 2.7L0.0 3.1L-1.4 2.7L-3.8 1.8L-5.8 0.7L-6.6 0.0L-5.8 -0.7L-3.8 -1.8L-1.4 -2.7L-0.0 -3.1L1.4 -2.7L3.8 -1.8L5.8 -0.7Z" fill="none" stroke="#fff" stroke-width="1.2" stroke-dasharray="0.9 1.0"/><ellipse rx="2.1" ry="1.1" fill="none" stroke="#eee" stroke-width="0.8" stroke-dasharray="0.8 0.9"/></g>
<g transform="translate(527.3 122.5) rotate(5) scale(0.86 0.97)"><path d="M10.6 0.0L10.0 0.6L8.4 1.7L6.1 3.0L3.5 4.2L1.2 5.0L0.0 5.3L-1.2 5.0L-3.5 4.2L-6.1 3.0L-8.4 1.7L-10.0 0.6L-10.6 0.0L-10.0 -0.6L-8.4 -1.7L-6.1 -3.0L-3.5 -4.2L-1.2 -5.0L-0.0 -5.3L1.2 -5.0L3.5 -4.2L6.1 -3.0L8.4 -1.7L10.0 -0.6Z" fill="#0a0a0a"/><path d="M6.6 0.0L5.8 0.7L3.8 1.8L1.4 2.7L0.0 3.1L-1.4 2.7L-3.8 1.8L-5.8 0.7L-6.6 0.0L-5.8 -0.7L-3.8 -1.8L-1.4 -2.7L-0.0 -3.1L1.4 -2.7L3.8 -1.8L5.8 -0.7Z" fill="none" stroke="#fff" stroke-width="1.2" stroke-dasharray="0.9 1.0"/><ellipse rx="2.1" ry="1.1" fill="none" stroke="#eee" stroke-width="0.8" stroke-dasharray="0.8 0.9"/></g>
<g transform="translate(558.9 119.6) rotate(12) scale(1.00 1.00)"><path d="M10.6 0.0L10.0 0.6L8.4 1.7L6.1 3.0L3.5 4.2L1.2 5.0L0.0 5.3L-1.2 5.0L-3.5 4.2L-6.1 3.0L-8.4 1.7L-10.0 0.6L-10.6 0.0L-10.0 -0.6L-8.4 -1.7L-6.1 -3.0L-3.5 -4.2L-1.2 -5.0L-0.0 -5.3L1.2 -5.0L3.5 -4.2L6.1 -3.0L8.4 -1.7L10.0 -0.6Z" fill="#0a0a0a"/><path d="M6.6 0.0L5.8 0.7L3.8 1.8L1.4 2.7L0.0 3.1L-1.4 2.7L-3.8 1.8L-5.8 0.7L-6.6 0.0L-5.8 -0.7L-3.8 -1.8L-1.4 -2.7L-0.0 -3.1L1.4 -2.7L3.8 -1.8L5.8 -0.7Z" fill="none" stroke="#fff" stroke-width="1.2" stroke-dasharray="0.9 1.0"/><ellipse rx="2.1" ry="1.1" fill="none" stroke="#eee" stroke-width="0.8" stroke-dasharray="0.8 0.9"/></g>
<g transform="translate(542.0 128.8) rotate(0) scale(0.92 0.92)"><path d="M10.6 0.0L10.0 0.6L8.4 1.7L6.1 3.0L3.5 4.2L1.2 5.0L0.0 5.3L-1.2 5.0L-3.5 4.2L-6.1 3.0L-8.4 1.7L-10.0 0.6L-10.6 0.0L-10.0 -0.6L-8.4 -1.7L-6.1 -3.0L-3.5 -4.2L-1.2 -5.0L-0.0 -5.3L1.2 -5.0L3.5 -4.2L6.1 -3.0L8.4 -1.7L10.0 -0.6Z" fill="#0a0a0a"/><path d="M6.6 0.0L5.8 0.7L3.8 1.8L1.4 2.7L0.0 3.1L-1.4 2.7L-3.8 1.8L-5.8 0.7L-6.6 0.0L-5.8 -0.7L-3.8 -1.8L-1.4 -2.7L-0.0 -3.1L1.4 -2.7L3.8 -1.8L5.8 -0.7Z" fill="none" stroke="#fff" stroke-width="1.2" stroke-dasharray="0.9 1.0"/><ellipse rx="2.1" ry="1.1" fill="none" stroke="#eee" stroke-width="0.8" stroke-dasharray="0.8 0.9"/></g>
<g transform="translate(518.1 133.7) rotate(8) scale(0.95 1.01)"><path d="M10.6 0.0L10.0 0.6L8.4 1.7L6.1 3.0L3.5 4.2L1.2 5.0L0.0 5.3L-1.2 5.0L-3.5 4.2L-6.1 3.0L-8.4 1.7L-10.0 0.6L-10.6 0.0L-10.0 -0.6L-8.4 -1.7L-6.1 -3.0L-3.5 -4.2L-1.2 -5.0L-0.0 -5.3L1.2 -5.0L3.5 -4.2L6.1 -3.0L8.4 -1.7L10.0 -0.6Z" fill="#0a0a0a"/><path d="M6.6 0.0L5.8 0.7L3.8 1.8L1.4 2.7L0.0 3.1L-1.4 2.7L-3.8 1.8L-5.8 0.7L-6.6 0.0L-5.8 -0.7L-3.8 -1.8L-1.4 -2.7L-0.0 -3.1L1.4 -2.7L3.8 -1.8L5.8 -0.7Z" fill="none" stroke="#fff" stroke-width="1.2" stroke-dasharray="0.9 1.0"/><ellipse rx="2.1" ry="1.1" fill="none" stroke="#eee" stroke-width="0.8" stroke-dasharray="0.8 0.9"/></g>
<g transform="translate(559.6 133.0) rotate(1) scale(0.90 1.01)"><path d="M10.6 0.0L10.0 0.6L8.4 1.7L6.1 3.0L3.5 4.2L1.2 5.0L0.0 5.3L-1.2 5.0L-3.5 4.2L-6.1 3.0L-8.4 1.7L-10.0 0.6L-10.6 0.0L-10.0 -0.6L-8.4 -1.7L-6.1 -3.0L-3.5 -4.2L-1.2 -5.0L-0.0 -5.3L1.2 -5.0L3.5 -4.2L6.1 -3.0L8.4 -1.7L10.0 -0.6Z" fill="#0a0a0a"/><path d="M6.6 0.0L5.8 0.7L3.8 1.8L1.4 2.7L0.0 3.1L-1.4 2.7L-3.8 1.8L-5.8 0.7L-6.6 0.0L-5.8 -0.7L-3.8 -1.8L-1.4 -2.7L-0.0 -3.1L1.4 -2.7L3.8 -1.8L5.8 -0.7Z" fill="none" stroke="#fff" stroke-width="1.2" stroke-dasharray="0.9 1.0"/><ellipse rx="2.1" ry="1.1" fill="none" stroke="#eee" stroke-width="0.8" stroke-dasharray="0.8 0.9"/></g>
<g transform="translate(532.2 140.7) rotate(12) scale(1.00 1.01)"><path d="M10.6 0.0L10.0 0.6L8.4 1.7L6.1 3.0L3.5 4.2L1.2 5.0L0.0 5.3L-1.2 5.0L-3.5 4.2L-6.1 3.0L-8.4 1.7L-10.0 0.6L-10.6 0.0L-10.0 -0.6L-8.4 -1.7L-6.1 -3.0L-3.5 -4.2L-1.2 -5.0L-0.0 -5.3L1.2 -5.0L3.5 -4.2L6.1 -3.0L8.4 -1.7L10.0 -0.6Z" fill="#0a0a0a"/><path d="M6.6 0.0L5.8 0.7L3.8 1.8L1.4 2.7L0.0 3.1L-1.4 2.7L-3.8 1.8L-5.8 0.7L-6.6 0.0L-5.8 -0.7L-3.8 -1.8L-1.4 -2.7L-0.0 -3.1L1.4 -2.7L3.8 -1.8L5.8 -0.7Z" fill="none" stroke="#fff" stroke-width="1.2" stroke-dasharray="0.9 1.0"/><ellipse rx="2.1" ry="1.1" fill="none" stroke="#eee" stroke-width="0.8" stroke-dasharray="0.8 0.9"/></g>
<g transform="translate(552.6 144.3) rotate(9) scale(0.98 0.93)"><path d="M10.6 0.0L10.0 0.6L8.4 1.7L6.1 3.0L3.5 4.2L1.2 5.0L0.0 5.3L-1.2 5.0L-3.5 4.2L-6.1 3.0L-8.4 1.7L-10.0 0.6L-10.6 0.0L-10.0 -0.6L-8.4 -1.7L-6.1 -3.0L-3.5 -4.2L-1.2 -5.0L-0.0 -5.3L1.2 -5.0L3.5 -4.2L6.1 -3.0L8.4 -1.7L10.0 -0.6Z" fill="#0a0a0a"/><path d="M6.6 0.0L5.8 0.7L3.8 1.8L1.4 2.7L0.0 3.1L-1.4 2.7L-3.8 1.8L-5.8 0.7L-6.6 0.0L-5.8 -0.7L-3.8 -1.8L-1.4 -2.7L-0.0 -3.1L1.4 -2.7L3.8 -1.8L5.8 -0.7Z" fill="none" stroke="#fff" stroke-width="1.2" stroke-dasharray="0.9 1.0"/><ellipse rx="2.1" ry="1.1" fill="none" stroke="#eee" stroke-width="0.8" stroke-dasharray="0.8 0.9"/></g>
<ellipse cx="520.9" cy="92.9" rx="6.2" ry="2.7" fill="#0a0a0a" transform="rotate(-8 520.9 92.9)"/>
<path d="M411.5 140.5L431.7 146.0M431.7 146.0L455.4 146.3M455.4 146.3L480.7 147.9M480.7 147.9L507.6 149.8M507.6 149.8L528.6 154.3M528.6 154.3L546.7 158.2M546.7 158.2L564.8 155.4M564.8 155.4L576.5 151.3M431.7 146.0L423.6 162.8M431.7 146.0L444.5 164.8M455.4 146.3L444.5 164.8M455.4 146.3L467.0 165.7M480.7 147.9L467.0 165.7M480.7 147.9L492.3 165.6M507.6 149.8L492.3 165.6M507.6 149.8L512.5 162.0M528.6 154.3L512.5 162.0M528.6 154.3L525.5 172.4M546.7 158.2L525.5 172.4M546.7 158.2L553.2 172.0M564.8 155.4L553.2 172.0M411.0 163.2L423.6 162.8M423.6 162.8L444.5 164.8M444.5 164.8L467.0 165.7M467.0 165.7L492.3 165.6M492.3 165.6L512.5 162.0M512.5 162.0L525.5 172.4M525.5 172.4L553.2 172.0M553.2 172.0L569.5 170.4M423.6 162.8L427.5 182.6M444.5 164.8L427.5 182.6M444.5 164.8L447.3 186.1M467.0 165.7L447.3 186.1M467.0 165.7L477.6 183.8M492.3 165.6L477.6 183.8M492.3 165.6L504.8 181.0M512.5 162.0L504.8 181.0M525.5 172.4L504.8 181.0M525.5 172.4L533.0 187.8M553.2 172.0L533.0 187.8M553.2 172.0L565.0 188.2M411.0 188.5L427.5 182.6M427.5 182.6L447.3 186.1M447.3 186.1L477.6 183.8M477.6 183.8L504.8 181.0M504.8 181.0L533.0 187.8M533.0 187.8L565.0 188.2M565.0 188.2L571.5 199.0M427.5 182.6L431.7 201.5M447.3 186.1L431.7 201.5M447.3 186.1L460.9 198.0M477.6 183.8L460.9 198.0M477.6 183.8L489.7 202.0M504.8 181.0L489.7 202.0M504.8 181.0L517.4 205.1M533.0 187.8L517.4 205.1M533.0 187.8L547.0 203.6M565.0 188.2L547.0 203.6M412.0 204.8L431.7 201.5M431.7 201.5L460.9 198.0M460.9 198.0L489.7 202.0M489.7 202.0L517.4 205.1M517.4 205.1L547.0 203.6M547.0 203.6L571.5 207.0" stroke="#0a0a0a" stroke-width="3.9" fill="none"/>
<path d="M411.5 140.5L431.7 146.0M431.7 146.0L455.4 146.3M455.4 146.3L480.7 147.9M480.7 147.9L507.6 149.8M507.6 149.8L528.6 154.3M528.6 154.3L546.7 158.2M546.7 158.2L564.8 155.4M564.8 155.4L576.5 151.3M431.7 146.0L423.6 162.8M431.7 146.0L444.5 164.8M455.4 146.3L444.5 164.8M455.4 146.3L467.0 165.7M480.7 147.9L467.0 165.7M480.7 147.9L492.3 165.6M507.6 149.8L492.3 165.6M507.6 149.8L512.5 162.0M528.6 154.3L512.5 162.0M528.6 154.3L525.5 172.4M546.7 158.2L525.5 172.4M546.7 158.2L553.2 172.0M564.8 155.4L553.2 172.0M411.0 163.2L423.6 162.8M423.6 162.8L444.5 164.8M444.5 164.8L467.0 165.7M467.0 165.7L492.3 165.6M492.3 165.6L512.5 162.0M512.5 162.0L525.5 172.4M525.5 172.4L553.2 172.0M553.2 172.0L569.5 170.4M423.6 162.8L427.5 182.6M444.5 164.8L427.5 182.6M444.5 164.8L447.3 186.1M467.0 165.7L447.3 186.1M467.0 165.7L477.6 183.8M492.3 165.6L477.6 183.8M492.3 165.6L504.8 181.0M512.5 162.0L504.8 181.0M525.5 172.4L504.8 181.0M525.5 172.4L533.0 187.8M553.2 172.0L533.0 187.8M553.2 172.0L565.0 188.2M411.0 188.5L427.5 182.6M427.5 182.6L447.3 186.1M447.3 186.1L477.6 183.8M477.6 183.8L504.8 181.0M504.8 181.0L533.0 187.8M533.0 187.8L565.0 188.2M565.0 188.2L571.5 199.0M427.5 182.6L431.7 201.5M447.3 186.1L431.7 201.5M447.3 186.1L460.9 198.0M477.6 183.8L460.9 198.0M477.6 183.8L489.7 202.0M504.8 181.0L489.7 202.0M504.8 181.0L517.4 205.1M533.0 187.8L517.4 205.1M533.0 187.8L547.0 203.6M565.0 188.2L547.0 203.6M412.0 204.8L431.7 201.5M431.7 201.5L460.9 198.0M460.9 198.0L489.7 202.0M489.7 202.0L517.4 205.1M517.4 205.1L547.0 203.6M547.0 203.6L571.5 207.0" stroke="#fff" stroke-width="1.6" fill="none"/>
<g transform="translate(431.7 146.0) rotate(-12)"><ellipse rx="7.2" ry="4.6" fill="#fff" stroke="#0a0a0a" stroke-width="2.3"/><ellipse rx="2.4" ry="1.6" fill="#0a0a0a"/></g>
<g transform="translate(455.4 146.3) rotate(-10)"><ellipse rx="7.2" ry="4.6" fill="#fff" stroke="#0a0a0a" stroke-width="2.3"/><ellipse rx="2.7" ry="2.0" fill="#0a0a0a"/></g>
<g transform="translate(480.7 147.9) rotate(39)"><ellipse rx="7.9" ry="5.6" fill="#fff" stroke="#0a0a0a" stroke-width="2.3"/><ellipse rx="2.8" ry="1.7" fill="#0a0a0a"/></g>
<g transform="translate(507.6 149.8) rotate(-24)"><ellipse rx="6.4" ry="5.4" fill="#fff" stroke="#0a0a0a" stroke-width="2.3"/><ellipse rx="3.0" ry="1.9" fill="#0a0a0a"/></g>
<g transform="translate(528.6 154.3) rotate(-2)"><ellipse rx="7.0" ry="5.6" fill="#fff" stroke="#0a0a0a" stroke-width="2.3"/><ellipse rx="2.5" ry="1.8" fill="#0a0a0a"/></g>
<g transform="translate(546.7 158.2) rotate(33)"><ellipse rx="5.7" ry="4.4" fill="#fff" stroke="#0a0a0a" stroke-width="2.3"/><ellipse rx="2.2" ry="1.3" fill="#0a0a0a"/></g>
<g transform="translate(564.8 155.4) rotate(-70)"><ellipse rx="7.2" ry="4.6" fill="#fff" stroke="#0a0a0a" stroke-width="2.3"/><ellipse rx="3.1" ry="1.7" fill="#0a0a0a"/></g>
<g transform="translate(423.6 162.8) rotate(-15)"><ellipse rx="7.2" ry="4.6" fill="#fff" stroke="#0a0a0a" stroke-width="2.3"/><ellipse rx="2.5" ry="1.6" fill="#0a0a0a"/></g>
<g transform="translate(444.5 164.8) rotate(-5)"><ellipse rx="7.2" ry="4.6" fill="#fff" stroke="#0a0a0a" stroke-width="2.3"/><ellipse rx="2.5" ry="1.9" fill="#0a0a0a"/></g>
<g transform="translate(467.0 165.7) rotate(38)"><ellipse rx="7.0" ry="5.2" fill="#fff" stroke="#0a0a0a" stroke-width="2.3"/><ellipse rx="2.8" ry="1.6" fill="#0a0a0a"/></g>
<g transform="translate(492.3 165.6) rotate(-80)"><ellipse rx="7.2" ry="4.6" fill="#fff" stroke="#0a0a0a" stroke-width="2.3"/><ellipse rx="2.8" ry="2.0" fill="#0a0a0a"/></g>
<g transform="translate(512.5 162.0) rotate(-5)"><ellipse rx="4.0" ry="3.1" fill="#fff" stroke="#0a0a0a" stroke-width="2.3"/><ellipse rx="1.4" ry="0.9" fill="#0a0a0a"/></g>
<g transform="translate(525.5 172.4) rotate(-17)"><ellipse rx="5.8" ry="4.8" fill="#fff" stroke="#0a0a0a" stroke-width="2.3"/><ellipse rx="2.3" ry="1.5" fill="#0a0a0a"/></g>
<g transform="translate(553.2 172.0) rotate(-50)"><ellipse rx="7.2" ry="4.6" fill="#fff" stroke="#0a0a0a" stroke-width="2.3"/><ellipse rx="2.7" ry="1.8" fill="#0a0a0a"/></g>
<g transform="translate(427.5 182.6) rotate(-62)"><ellipse rx="7.2" ry="4.6" fill="#fff" stroke="#0a0a0a" stroke-width="2.3"/><ellipse rx="2.8" ry="1.8" fill="#0a0a0a"/></g>
<g transform="translate(447.3 186.1) rotate(-50)"><ellipse rx="7.2" ry="4.6" fill="#fff" stroke="#0a0a0a" stroke-width="2.3"/><ellipse rx="2.5" ry="1.5" fill="#0a0a0a"/></g>
<g transform="translate(477.6 183.8) rotate(24)"><ellipse rx="7.7" ry="6.3" fill="#fff" stroke="#0a0a0a" stroke-width="2.3"/><ellipse rx="3.5" ry="2.1" fill="#0a0a0a"/></g>
<g transform="translate(504.8 181.0) rotate(-14)"><ellipse rx="7.8" ry="6.2" fill="#fff" stroke="#0a0a0a" stroke-width="2.3"/><ellipse rx="3.4" ry="1.8" fill="#0a0a0a"/></g>
<g transform="translate(533.0 187.8) rotate(-65)"><ellipse rx="7.2" ry="4.6" fill="#fff" stroke="#0a0a0a" stroke-width="2.3"/><ellipse rx="2.9" ry="1.8" fill="#0a0a0a"/></g>
<g transform="translate(565.0 188.2) rotate(80)"><ellipse rx="7.2" ry="4.6" fill="#fff" stroke="#0a0a0a" stroke-width="2.3"/><ellipse rx="2.7" ry="1.8" fill="#0a0a0a"/></g>
<g transform="translate(431.7 201.5) rotate(-55)"><ellipse rx="7.2" ry="4.6" fill="#fff" stroke="#0a0a0a" stroke-width="2.3"/><ellipse rx="2.7" ry="1.8" fill="#0a0a0a"/></g>
<g transform="translate(460.9 198.0) rotate(-2)"><ellipse rx="6.2" ry="4.7" fill="#fff" stroke="#0a0a0a" stroke-width="2.3"/><ellipse rx="2.6" ry="1.7" fill="#0a0a0a"/></g>
<g transform="translate(489.7 202.0) rotate(-15)"><ellipse rx="8.1" ry="5.2" fill="#fff" stroke="#0a0a0a" stroke-width="2.3"/><ellipse rx="3.3" ry="1.8" fill="#0a0a0a"/></g>
<g transform="translate(517.4 205.1) rotate(-30)"><ellipse rx="6.7" ry="4.9" fill="#fff" stroke="#0a0a0a" stroke-width="2.3"/><ellipse rx="2.6" ry="1.5" fill="#0a0a0a"/></g>
<g transform="translate(547.0 203.6) rotate(-20)"><ellipse rx="7.9" ry="5.1" fill="#fff" stroke="#0a0a0a" stroke-width="2.3"/><ellipse rx="2.8" ry="2.0" fill="#0a0a0a"/></g>
<g transform="translate(415.1 228.0) rotate(-6)"><rect x="-3.4" y="-7.4" width="6.8" height="14.8" rx="3.4" ry="5.9" fill="#fff" stroke="#0a0a0a" stroke-width="2.2"/><rect x="-2.1" y="-4.9" width="4.2" height="9.8" rx="2.1" ry="3.9" fill="#0a0a0a"/><path d="M0 -3.5V3.5" stroke="#fff" stroke-width="1.5" stroke-dasharray="0.9 1.2"/></g>
<g transform="translate(424.4 224.5) rotate(-2)"><rect x="-3.4" y="-7.7" width="6.8" height="15.3" rx="3.4" ry="6.1" fill="#fff" stroke="#0a0a0a" stroke-width="2.2"/><rect x="-2.1" y="-5.0" width="4.2" height="10.1" rx="2.1" ry="4.0" fill="#0a0a0a"/><path d="M0 -3.6V3.6" stroke="#fff" stroke-width="1.5" stroke-dasharray="0.9 1.2"/></g>
<g transform="translate(435.0 223.1) rotate(2)"><rect x="-3.7" y="-9.4" width="7.4" height="18.8" rx="3.7" ry="7.5" fill="#fff" stroke="#0a0a0a" stroke-width="2.2"/><rect x="-2.3" y="-6.2" width="4.6" height="12.4" rx="2.3" ry="5.0" fill="#0a0a0a"/><path d="M0 -4.5V4.5" stroke="#fff" stroke-width="1.5" stroke-dasharray="0.9 1.2"/></g>
<g transform="translate(447.2 220.3) rotate(2)"><rect x="-4.6" y="-10.2" width="9.2" height="20.3" rx="4.6" ry="8.1" fill="#fff" stroke="#0a0a0a" stroke-width="2.2"/><rect x="-2.9" y="-6.7" width="5.7" height="13.4" rx="2.9" ry="5.4" fill="#0a0a0a"/><path d="M0 -4.8V4.8" stroke="#fff" stroke-width="1.5" stroke-dasharray="0.9 1.2"/></g>
<g transform="translate(460.1 220.6) rotate(0)"><rect x="-4.6" y="-10.2" width="9.2" height="20.3" rx="4.6" ry="8.1" fill="#fff" stroke="#0a0a0a" stroke-width="2.2"/><rect x="-2.9" y="-6.7" width="5.7" height="13.4" rx="2.9" ry="5.4" fill="#0a0a0a"/><path d="M0 -4.8V4.8" stroke="#fff" stroke-width="1.5" stroke-dasharray="0.9 1.2"/></g>
<g transform="translate(473.9 220.3) rotate(14)"><rect x="-4.5" y="-9.4" width="9.0" height="18.8" rx="4.5" ry="7.5" fill="#fff" stroke="#0a0a0a" stroke-width="2.2"/><rect x="-2.8" y="-6.2" width="5.6" height="12.4" rx="2.8" ry="5.0" fill="#0a0a0a"/><path d="M0 -4.5V4.5" stroke="#fff" stroke-width="1.5" stroke-dasharray="0.9 1.2"/></g>
<g transform="translate(485.5 225.2) rotate(3)"><rect x="-4.0" y="-10.9" width="8.0" height="21.8" rx="4.0" ry="8.7" fill="#fff" stroke="#0a0a0a" stroke-width="2.2"/><rect x="-2.5" y="-7.2" width="5.0" height="14.4" rx="2.5" ry="5.8" fill="#0a0a0a"/><path d="M0 -5.2V5.2" stroke="#fff" stroke-width="1.5" stroke-dasharray="0.9 1.2"/></g>
<g transform="translate(499.8 222.4) rotate(-2)"><rect x="-4.1" y="-9.4" width="8.1" height="18.8" rx="4.1" ry="7.5" fill="#fff" stroke="#0a0a0a" stroke-width="2.2"/><rect x="-2.5" y="-6.2" width="5.0" height="12.4" rx="2.5" ry="5.0" fill="#0a0a0a"/><path d="M0 -4.5V4.5" stroke="#fff" stroke-width="1.5" stroke-dasharray="0.9 1.2"/></g>
<g transform="translate(513.8 223.1) rotate(2)"><rect x="-3.4" y="-7.4" width="6.7" height="14.8" rx="3.4" ry="5.9" fill="#fff" stroke="#0a0a0a" stroke-width="2.2"/><rect x="-2.1" y="-4.9" width="4.2" height="9.8" rx="2.1" ry="3.9" fill="#0a0a0a"/><path d="M0 -3.5V3.5" stroke="#fff" stroke-width="1.5" stroke-dasharray="0.9 1.2"/></g>
<g transform="translate(526.9 220.3) rotate(15)"><rect x="-4.3" y="-8.2" width="8.6" height="16.3" rx="4.3" ry="6.5" fill="#fff" stroke="#0a0a0a" stroke-width="2.2"/><rect x="-2.7" y="-5.4" width="5.3" height="10.8" rx="2.7" ry="4.3" fill="#0a0a0a"/><path d="M0 -3.9V3.9" stroke="#fff" stroke-width="1.5" stroke-dasharray="0.9 1.2"/></g>
<g transform="translate(539.1 221.7) rotate(12)"><rect x="-4.1" y="-8.8" width="8.1" height="17.5" rx="4.1" ry="7.0" fill="#fff" stroke="#0a0a0a" stroke-width="2.2"/><rect x="-2.5" y="-5.8" width="5.0" height="11.6" rx="2.5" ry="4.6" fill="#0a0a0a"/><path d="M0 -4.2V4.2" stroke="#fff" stroke-width="1.5" stroke-dasharray="0.9 1.2"/></g>
<g transform="translate(551.1 223.1) rotate(12)"><rect x="-3.7" y="-10.9" width="7.4" height="21.8" rx="3.7" ry="8.7" fill="#fff" stroke="#0a0a0a" stroke-width="2.2"/><rect x="-2.3" y="-7.2" width="4.6" height="14.4" rx="2.3" ry="5.8" fill="#0a0a0a"/><path d="M0 -5.2V5.2" stroke="#fff" stroke-width="1.5" stroke-dasharray="0.9 1.2"/></g>
<g transform="translate(562.1 217.5) rotate(15)"><rect x="-3.7" y="-8.1" width="7.4" height="16.1" rx="3.7" ry="6.4" fill="#fff" stroke="#0a0a0a" stroke-width="2.2"/><rect x="-2.3" y="-5.3" width="4.6" height="10.6" rx="2.3" ry="4.3" fill="#0a0a0a"/><path d="M0 -3.8V3.8" stroke="#fff" stroke-width="1.5" stroke-dasharray="0.9 1.2"/></g>
<path d="M428.0 253.0C429.0 254.0 432.3 256.8 434.0 259.0C435.7 261.2 436.7 263.2 438.0 266.0C439.3 268.8 440.8 273.1 442.0 276.0C443.2 278.9 444.5 282.2 445.0 283.5" fill="none" stroke="#0a0a0a" stroke-width="1.4" stroke-dasharray="3.6 1.8"/>
<path d="M416.0 281.0C417.5 281.3 421.8 282.5 425.0 283.0C428.2 283.5 431.7 283.8 435.0 284.0C438.3 284.2 443.3 284.0 445.0 284.0" fill="none" stroke="#0a0a0a" stroke-width="1.7" stroke-dasharray="3.6 1.8"/>
<path d="M445.0 283.5C447.8 281.9 456.3 277.5 462.0 274.0C467.7 270.5 473.1 264.9 479.0 262.5C484.9 260.1 491.0 260.1 497.5 259.5C504.0 258.9 514.6 258.9 518.0 258.8" fill="none" stroke="#0a0a0a" stroke-width="1.4" stroke-dasharray="3.6 1.8"/>
<path d="M447.0 285.5C449.8 284.0 458.3 279.9 464.0 276.5C469.7 273.1 475.3 267.4 481.0 265.0C486.7 262.6 491.8 262.7 498.0 262.0C504.2 261.3 514.7 261.2 518.0 261.0" fill="none" stroke="#0a0a0a" stroke-width="1.4" stroke-dasharray="3.6 1.8"/>
<path d="M473.0 243.8C475.2 245.0 481.9 248.4 486.0 251.0C490.1 253.6 495.6 258.1 497.5 259.5" fill="none" stroke="#0a0a0a" stroke-width="1.4" stroke-dasharray="3.6 1.8"/>
<path d="M482.5 242.0C483.2 243.2 485.4 246.8 487.0 249.0C488.6 251.2 491.2 254.0 492.0 255.0" fill="none" stroke="#0a0a0a" stroke-width="1.4" stroke-dasharray="3.6 1.8"/>
<path d="M507.0 248.4C508.0 249.2 511.2 251.5 513.0 253.0C514.8 254.5 517.2 256.8 518.0 257.5" fill="none" stroke="#0a0a0a" stroke-width="1.7" stroke-dasharray="3.6 1.8"/>
<path d="M524.0 262.0C525.0 263.2 528.2 266.7 530.0 269.0C531.8 271.3 534.2 274.5 535.0 275.6" fill="none" stroke="#0a0a0a" stroke-width="1.4" stroke-dasharray="3.6 1.8"/>
<path d="M408.5 264.6C413.3 264.4 428.6 263.6 437.5 263.6C446.4 263.6 454.2 263.5 462.0 264.6C469.8 265.7 477.3 267.8 484.5 270.0C491.7 272.2 499.2 276.0 505.0 277.8C510.8 279.6 513.8 280.8 519.0 281.0C524.2 281.2 530.3 279.7 536.0 279.0C541.7 278.3 550.2 277.2 553.0 276.9" fill="none" stroke="#0a0a0a" stroke-width="5.2" stroke-linecap="round"/>
<path d="M408.5 264.6C413.3 264.4 428.6 263.6 437.5 263.6C446.4 263.6 454.2 263.5 462.0 264.6C469.8 265.7 477.3 267.8 484.5 270.0C491.7 272.2 499.2 276.0 505.0 277.8C510.8 279.6 513.8 280.8 519.0 281.0C524.2 281.2 530.3 279.7 536.0 279.0C541.7 278.3 550.2 277.2 553.0 276.9" fill="none" stroke="#fff" stroke-width="2.7"/>
<path d="M408.5 264.6C413.3 264.4 428.6 263.6 437.5 263.6C446.4 263.6 454.2 263.5 462.0 264.6C469.8 265.7 477.3 267.8 484.5 270.0C491.7 272.2 499.2 276.0 505.0 277.8C510.8 279.6 513.8 280.8 519.0 281.0C524.2 281.2 530.3 279.7 536.0 279.0C541.7 278.3 550.2 277.2 553.0 276.9" fill="none" stroke="#0a0a0a" stroke-width="2.7" stroke-dasharray="0.9 1.7"/>
<path d="M553.0 276.9L564.0 276.2" fill="none" stroke="#0a0a0a" stroke-width="2.4" stroke-linecap="round"/>
<path d="M415.1 235.8C416.1 236.8 418.8 240.1 421.3 242.0C423.9 243.9 427.4 245.9 430.4 247.1C433.4 248.3 437.1 249.1 439.5 249.4C441.9 249.8 444.1 249.2 445.0 249.2" fill="none" stroke="#0a0a0a" stroke-width="4.3" stroke-linecap="round"/>
<path d="M415.1 235.8C416.1 236.8 418.8 240.1 421.3 242.0C423.9 243.9 427.4 245.9 430.4 247.1C433.4 248.3 437.1 249.1 439.5 249.4C441.9 249.8 444.1 249.2 445.0 249.2" fill="none" stroke="#fff" stroke-width="1.8"/>
<path d="M415.1 235.8C416.1 236.8 418.8 240.1 421.3 242.0C423.9 243.9 427.4 245.9 430.4 247.1C433.4 248.3 437.1 249.1 439.5 249.4C441.9 249.8 444.1 249.2 445.0 249.2" fill="none" stroke="#0a0a0a" stroke-width="1.8" stroke-dasharray="0.9 1.7"/>
<path d="M438.4 263.0C439.3 261.0 442.1 254.4 444.0 251.1C445.9 247.8 448.2 246.2 449.7 243.2C451.2 240.2 452.5 235.3 453.1 232.9C453.7 230.5 453.1 229.2 453.1 228.5" fill="none" stroke="#0a0a0a" stroke-width="3.7" stroke-linecap="round"/>
<path d="M438.4 263.0C439.3 261.0 442.1 254.4 444.0 251.1C445.9 247.8 448.2 246.2 449.7 243.2C451.2 240.2 452.5 235.3 453.1 232.9C453.7 230.5 453.1 229.2 453.1 228.5" fill="none" stroke="#fff" stroke-width="1.2"/>
<path d="M438.4 263.0C439.3 261.0 442.1 254.4 444.0 251.1C445.9 247.8 448.2 246.2 449.7 243.2C451.2 240.2 452.5 235.3 453.1 232.9C453.7 230.5 453.1 229.2 453.1 228.5" fill="none" stroke="#0a0a0a" stroke-width="1.2" stroke-dasharray="1.2 1.0"/>
<path d="M446.5 246.2C452 245.2 458 242 462.6 236.8C459.8 244.5 453 249.2 446.8 249.4Z" fill="#0a0a0a"/>
<path d="M435.5 235.2C435.9 236.0 437.2 238.3 438.0 240.0C438.8 241.7 440.1 244.6 440.5 245.5" fill="none" stroke="#0a0a0a" stroke-width="1.1" stroke-linecap="round"/>
<path d="M518.8 279.5C519.0 277.6 519.5 271.6 520.0 268.0C520.5 264.4 521.2 260.7 521.6 258.0C522.0 255.3 522.1 253.0 522.2 252.0" fill="none" stroke="#0a0a0a" stroke-width="6.4" stroke-linecap="round"/>
<path d="M518.8 279.5C519.0 277.6 519.5 271.6 520.0 268.0C520.5 264.4 521.2 260.7 521.6 258.0C522.0 255.3 522.1 253.0 522.2 252.0" fill="none" stroke="#fff" stroke-width="3.9"/>
<path d="M518.8 279.5C519.0 277.6 519.5 271.6 520.0 268.0C520.5 264.4 521.2 260.7 521.6 258.0C522.0 255.3 522.1 253.0 522.2 252.0" fill="none" stroke="#0a0a0a" stroke-width="3.9" stroke-dasharray="1.4 1.1"/>
<path d="M521.3 254.5C520.8 253.2 519.5 248.8 518.5 246.5C517.5 244.2 516.4 242.2 515.5 240.5C514.6 238.8 513.6 236.9 513.2 236.2" fill="none" stroke="#0a0a0a" stroke-width="5.2" stroke-linecap="round"/>
<path d="M521.3 254.5C520.8 253.2 519.5 248.8 518.5 246.5C517.5 244.2 516.4 242.2 515.5 240.5C514.6 238.8 513.6 236.9 513.2 236.2" fill="none" stroke="#fff" stroke-width="2.7"/>
<path d="M521.3 254.5C520.8 253.2 519.5 248.8 518.5 246.5C517.5 244.2 516.4 242.2 515.5 240.5C514.6 238.8 513.6 236.9 513.2 236.2" fill="none" stroke="#0a0a0a" stroke-width="2.7" stroke-dasharray="1.5 0.9"/>
<path d="M523.0 253.5C523.4 252.1 524.5 247.7 525.5 245.0C526.5 242.3 527.9 239.6 529.0 237.5C530.1 235.4 531.5 233.4 532.0 232.6" fill="none" stroke="#0a0a0a" stroke-width="4.6" stroke-linecap="round"/>
<path d="M523.0 253.5C523.4 252.1 524.5 247.7 525.5 245.0C526.5 242.3 527.9 239.6 529.0 237.5C530.1 235.4 531.5 233.4 532.0 232.6" fill="none" stroke="#fff" stroke-width="2.1"/>
<path d="M523.0 253.5C523.4 252.1 524.5 247.7 525.5 245.0C526.5 242.3 527.9 239.6 529.0 237.5C530.1 235.4 531.5 233.4 532.0 232.6" fill="none" stroke="#0a0a0a" stroke-width="2.1" stroke-dasharray="1.5 0.9"/>
<path d="M527.5 247.6C529.6 246.7 536.4 243.5 540.0 242.0C543.6 240.5 547.2 239.9 549.0 238.8C550.8 237.7 550.7 236.1 551.0 235.6" fill="none" stroke="#0a0a0a" stroke-width="3.7" stroke-linecap="round"/>
<path d="M527.5 247.6C529.6 246.7 536.4 243.5 540.0 242.0C543.6 240.5 547.2 239.9 549.0 238.8C550.8 237.7 550.7 236.1 551.0 235.6" fill="none" stroke="#fff" stroke-width="1.2"/>
<path d="M527.5 247.6C529.6 246.7 536.4 243.5 540.0 242.0C543.6 240.5 547.2 239.9 549.0 238.8C550.8 237.7 550.7 236.1 551.0 235.6" fill="none" stroke="#0a0a0a" stroke-width="1.2" stroke-dasharray="0.9 1.7"/>
<path d="M431.0 233.0l2 7M432.5 233.0l3.4 6" stroke="#0a0a0a" stroke-width="0.9"/>
<path d="M485.0 237.0l2 7M486.5 237.0l3.4 6" stroke="#0a0a0a" stroke-width="0.9"/>
<path d="M538.0 233.0l2 7M539.5 233.0l3.4 6" stroke="#0a0a0a" stroke-width="0.9"/>
<path d="M573.6 72.2q2.0 0 2.0 2.0V78.1q0 2.0 2.2 2.0q-2.2 0.6 -2.2 2.0V86.0q0 2.0 -2.0 2.0M575.0 89.6q2.0 0 2.0 2.0V92.5q0 2.0 1.8 2.0q-1.8 0.6 -1.8 2.0V97.4q0 2.0 -2.0 2.0M574.3 100.8q2.0 0 2.0 2.0V120.8q0 2.0 2.2 2.0q-2.2 0.6 -2.2 2.0V142.8q0 2.0 -2.0 2.0M573.6 154.5q2.0 0 2.0 2.0V176.9q0 2.0 2.2 2.0q-2.2 0.6 -2.2 2.0V201.3q0 2.0 -2.0 2.0M570.6 206.7q2.0 0 2.0 2.0V221.1q0 2.0 2.2 2.0q-2.2 0.6 -2.2 2.0V237.6q0 2.0 -2.0 2.0" fill="none" stroke="#111" stroke-width="1.3"/>
<text x="579.8" y="83.2" font-family="'Liberation Serif','Noto Serif CJK SC',serif" font-size="11" font-weight="bold" fill="#111">角质层</text>
<text x="579.9" y="99.1" font-family="'Liberation Serif','Noto Serif CJK SC',serif" font-size="11" font-weight="bold" fill="#111">透明层</text>
<text x="580.0" y="127.9" font-family="'Liberation Serif','Noto Serif CJK SC',serif" font-size="11" font-weight="bold" fill="#111">颗粒层</text>
<text x="580.3" y="180.7" font-family="'Liberation Serif','Noto Serif CJK SC',serif" font-size="11" font-weight="bold" fill="#111">棘层</text>
<text x="579.3" y="226.1" font-family="'Liberation Serif','Noto Serif CJK SC',serif" font-size="11.1" font-weight="bold" fill="#111">基底层</text>
<text x="535.9" y="266.1" font-family="'Liberation Serif','Noto Serif CJK SC',serif" font-size="11.3" font-weight="bold" fill="#111">神经、血管</text></g>
</svg>
</body></html>
